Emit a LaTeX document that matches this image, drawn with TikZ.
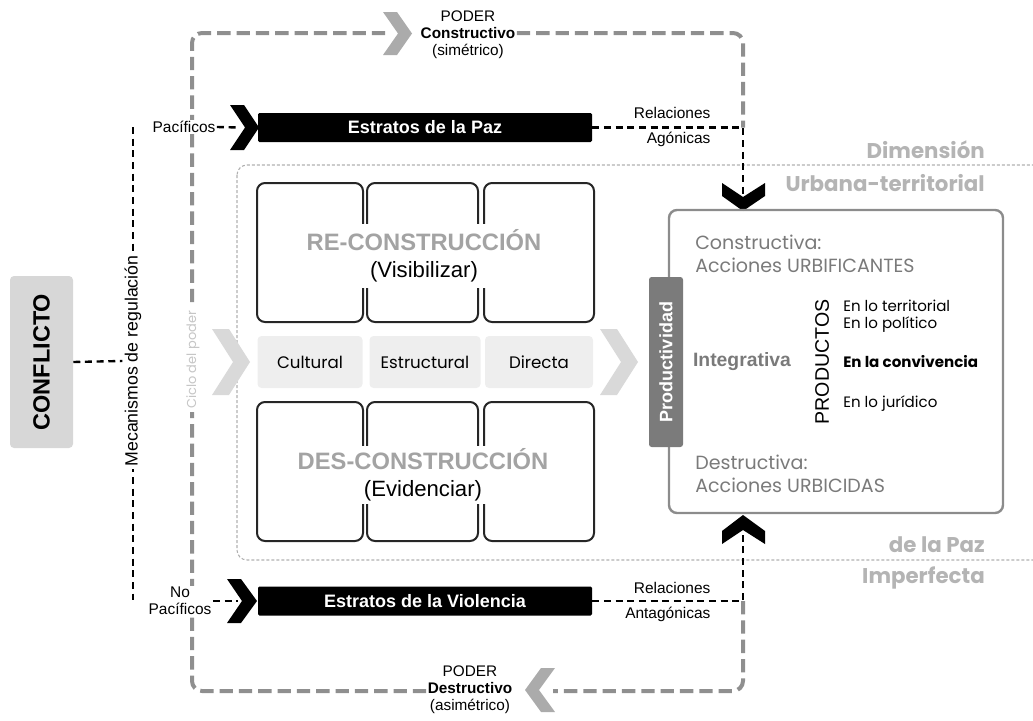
\documentclass[tikz,border=0pt]{standalone}
\usepackage{graphicx}
\usepackage{fontspec}
\setmainfont{Liberation Sans}
\newfontfamily\gothic{Poppins}
\definecolor{boxline}{HTML}{262626}
\definecolor{txtgray}{HTML}{A3A3A3}
\definecolor{dimgray}{HTML}{B4B4B4}
\definecolor{loopgray}{HTML}{8F8F8F}
\definecolor{chevgray}{HTML}{ABABAB}
\definecolor{lightchev}{HTML}{D9D9D9}
\definecolor{midfill}{HTML}{EEEEEE}
\definecolor{conffill}{HTML}{D7D7D7}
\definecolor{rgray}{HTML}{8C8C8C}
\definecolor{pgray}{HTML}{7B7B7B}
\definecolor{rtxt}{HTML}{7A7A7A}
\definecolor{dotgray}{HTML}{B0B0B0}
\definecolor{ciclogray}{HTML}{C6C6C6}
\tikzset{
  graydash/.style={draw=loopgray, line width=3pt, dash pattern=on 10pt off 4.5pt, rounded corners=7.5pt},
  blkdash/.style={draw=black, line width=1.8pt, dash pattern=on 5.25pt off 3.5pt},
  dotrect/.style={draw=dotgray, line width=0.8pt, dash pattern=on 2.25pt off 1.5pt, rounded corners=7.5pt},
  lbl/.style={font=\fontsize{11.6}{13}\selectfont, inner sep=1pt},
  poder/.style={align=center, font=\fontsize{11.5}{12.75}\selectfont, inner sep=1pt},
  estr/.style={fill=black, text=white, font=\bfseries\fontsize{13.5}{15}\selectfont, minimum width=250.5pt, minimum height=21.75pt, inner sep=0pt, rounded corners=1pt},
  bigbox/.style={draw=boxline, line width=1.5pt, rounded corners=6pt, minimum height=104.25pt, inner sep=0pt},
  bigtxt/.style={fill=white, align=center, inner xsep=2pt, inner ysep=0pt, font=\fontsize{17.8}{20}\selectfont},
  midbox/.style={fill=midfill, rounded corners=3pt, minimum height=39pt, inner sep=0pt, font=\gothic\fontsize{12.5}{15}\selectfont},
  dimtxt/.style={text=dimgray, font=\gothic\bfseries\fontsize{16}{18}\selectfont, anchor=east, inner sep=0pt},
  rtext/.style={text=rtxt, font=\gothic\fontsize{14.3}{16}\selectfont, anchor=west, inner sep=0pt},
  prodtxt/.style={font=\gothic\fontsize{11.3}{13}\selectfont, anchor=west, inner sep=0pt},
}
\begin{document}
\begin{tikzpicture}[x=0.75pt,y=-0.75pt]
\useasboundingbox (0,0) rectangle (1033,721);
\clip (0,0) rectangle (1033,721);

% ---------- coordinates ----------
\coordinate (lpTL) at (192,33);
\coordinate (lpTR) at (743,33);
\coordinate (lpBR) at (743,691);
\coordinate (lpBL) at (192,691);
\coordinate (tchev) at (385,33);
\coordinate (bchev) at (553,691);
\coordinate (relA) at (743,127.5);
\coordinate (relB) at (743,601);
\coordinate (dchev) at (743,200);
\coordinate (uchev) at (743,528);
\coordinate (mtop) at (133,127);
\coordinate (mbot) at (133,600);
\coordinate (pchev) at (240,127.5);
\coordinate (vchev) at (238,601);

% ---------- dotted dimension frame ----------
\draw[dotrect] (237,165) rectangle (1045,560);

% ---------- power loop ----------
\node[poder] (pc) at (468,35) {PODER\\\textbf{Constructivo}\\(simétrico)};
\node[poder] (pd) at (470,690) {PODER\\\textbf{Destructivo}\\(asimétrico)};
\draw[graydash] (pd.west |- lpBL) -- (lpBL) -- (lpTL) -- (tchev);
\draw[graydash] (pc.east |- lpTR) -- (lpTR) -- (relA);
\draw[graydash] (relB) -- (lpBR) -- (bchev);
\fill[chevgray] (383,12) -- (397,12) -- (412,33.5) -- (397,55) -- (383,55) -- (398,33.5) -- cycle;
\fill[chevgray] (555,668) -- (541,668) -- (525,690) -- (541,712) -- (555,712) -- (539,690) -- cycle;

% ---------- conflicto and regulation ----------
\node[fill=conffill, rounded corners=3pt, minimum width=47.25pt, minimum height=129pt, inner sep=0pt,
      font=\bfseries\fontsize{17.6}{20}\selectfont] (conf) at (41.5,362) {\rotatebox{90}{CONFLICTO}};
\draw[blkdash] (mtop) -- (mbot);
\node[fill=white, inner xsep=1.5pt, inner ysep=2pt, font=\fontsize{13.3}{15}\selectfont] (mec) at (133,361) {\rotatebox{90}{Mecanismos de regulación}};
\draw[blkdash] (conf.east) -- (mec.west);

% ---------- cycle label ----------
\node[fill=white, inner xsep=1pt, inner ysep=2pt, text=ciclogray, font=\gothic\fontsize{9.7}{12}\selectfont] (ciclo) at (193,360) {\rotatebox{90}{Ciclo del poder}};

% ---------- estratos ----------
\node[estr] (ep) at (425,127.5) {Estratos de la Paz};
\node[lbl, fill=white] (pac) at (184,127) {Pacíficos};
\draw[blkdash] (pac.east) -- (pchev);
\fill[black] (230,105) -- (244,105) -- (259,127.5) -- (244,150) -- (230,150) -- (245,127.5) -- cycle;

\node[estr] (ev) at (425,601) {Estratos de la Violencia};
\node[lbl, fill=white, align=center] (npac) at (180,601) {No\\Pacíficos};
\draw[blkdash] (npac.east) -- (vchev);
\fill[black] (227,579) -- (241,579) -- (257,601) -- (241,623) -- (227,623) -- (242,601) -- cycle;

% relations
\draw[blkdash] (ep.east) -- (relA) -- (dchev);
\node[lbl, anchor=east] (ra1) at (712,113) {Relaciones};
\node[lbl, anchor=east] (ra2) at (712,139) {Agónicas};
\fill[black] (722,183) -- (743,197) -- (765,183) -- (765,196) -- (743,211) -- (722,196) -- cycle;

\draw[blkdash] (ev.east) -- (relB) -- (uchev);
\node[lbl, anchor=east] (rb1l) at (712,588) {Relaciones};
\node[lbl, anchor=east] (rb2l) at (712,614) {Antagónicas};
\fill[black] (722,544) -- (743,530) -- (765,544) -- (765,531) -- (743,515) -- (722,531) -- cycle;

% ---------- RE-CONSTRUCCION ----------
\node[bigbox, minimum width=79.5pt] (r1) at (310,252.5) {};
\node[bigbox, minimum width=83.25pt] (r2) at (422.5,252.5) {};
\node[bigbox, minimum width=82.5pt] (r3) at (539,252.5) {};
\node[bigtxt, minimum height=48pt] (rt) at (424,256) {{\color{txtgray}\bfseries RE-CONSTRUCCIÓN}\\{\fontsize{16.6}{20}\selectfont (Visibilizar)}};

% ---------- middle row ----------
\fill[lightchev] (212,329) -- (229,329) -- (250,362) -- (229,395) -- (212,395) -- (233,362) -- cycle;
\fill[lightchev] (600,329) -- (617,329) -- (638,362) -- (617,395) -- (600,395) -- (621,362) -- cycle;
\node[midbox, minimum width=78.75pt] (cul) at (310,362) {Cultural};
\node[midbox, minimum width=83.25pt] (est) at (425,362) {Estructural};
\node[midbox, minimum width=81pt] (dir) at (539,362) {Directa};

% ---------- DES-CONSTRUCCION ----------
\node[bigbox, minimum width=79.5pt] (d1) at (310,471.5) {};
\node[bigbox, minimum width=83.25pt] (d2) at (422.5,471.5) {};
\node[bigbox, minimum width=82.5pt] (d3) at (539,471.5) {};
\node[bigtxt, minimum height=43.5pt] (dt) at (423,475) {{\color{txtgray}\bfseries DES-CONSTRUCCIÓN}\\{\fontsize{16.6}{20}\selectfont (Evidenciar)}};

% ---------- right box ----------
\node[draw=rgray, line width=1.8pt, rounded corners=6pt, minimum width=250.5pt, minimum height=227.25pt, inner sep=0pt] (rbox) at (836,361.5) {};
\node[fill=pgray, rounded corners=2pt, minimum width=25.5pt, minimum height=127.5pt, inner sep=0pt, text=white,
      font=\bfseries\fontsize{13.5}{15}\selectfont] (prod) at (666,362) {\rotatebox{90}{Productividad}};
\node[rtext] (c1) at (695,242) {Constructiva:};
\node[rtext] (c2) at (695,265) {Acciones URBIFICANTES};
\node[rtext] (c3) at (695,462) {Destructiva:};
\node[rtext] (c4) at (695,485) {Acciones URBICIDAS};
\node[text=rtxt, font=\bfseries\fontsize{14.5}{16}\selectfont, inner sep=0pt] (integ) at (742,362) {Integrativa};
\node[font=\fontsize{14.7}{16}\selectfont, inner sep=0pt] (productos) at (822,362) {\rotatebox{90}{PRODUCTOS}};
\node[prodtxt] (p1) at (843,306) {En lo territorial};
\node[prodtxt] (p2) at (843,325) {En lo político};
\node[prodtxt, font=\gothic\bfseries\fontsize{11.3}{13}\selectfont] (p3) at (843,362) {En la convivencia};
\node[prodtxt] (p4) at (843,404) {En lo jurídico};

% ---------- dimension labels ----------
\node[dimtxt] (dm1) at (985,150) {Dimensión};
\node[dimtxt] (dm2) at (985,183) {Urbana-territorial};
\node[dimtxt] (dm3) at (985,545) {de la Paz};
\node[dimtxt] (dm4) at (985,578) {Imperfecta};
\end{tikzpicture}
\end{document}
